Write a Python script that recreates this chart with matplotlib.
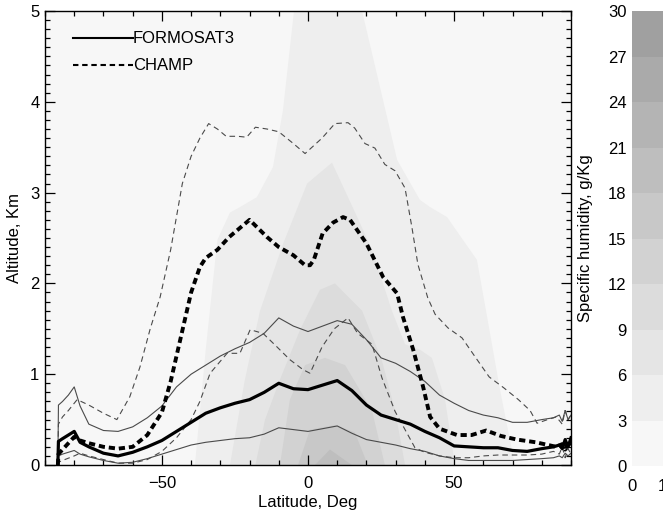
import matplotlib
matplotlib.use('Agg')
import matplotlib.pyplot as plt
import numpy as np
from matplotlib.ticker import MultipleLocator
from matplotlib.colors import ListedColormap, BoundaryNorm
from matplotlib.lines import Line2D

plt.rcParams['font.family'] = ['Liberation Sans', 'DejaVu Sans']

# ---------------- humidity colour levels (g/Kg) ----------------
hum_levels = [0, 3, 6, 9, 12, 15, 18, 21, 24, 27, 30]
hum_colors = ['#f7f7f7', '#eeeeee', '#e5e5e5', '#dcdcdc', '#d2d2d2',
              '#c8c8c8', '#bebebe', '#b4b4b4', '#aaaaaa', '#a0a0a0']

# ------------- filled contour regions (lat, alt) boundaries -------------
# level >= 3
c3_left_lat = [-38.7, -35, -31, -26.7, -23.3, -17.5, -12, -8.6, -4.8, -4.8]
c3_left_alt = [0.0, 1.27, 2.48, 2.78, 2.84, 2.95, 3.28, 3.9, 5.0, 5.1]
c3_right_lat = [70.8, 65.7, 61.3, 57.8, 53, 47.6, 41.8, 38.3, 30.5, 18.5, 18.5]
c3_right_alt = [0.0, 0.83, 1.63, 2.26, 2.48, 2.73, 2.84, 2.92, 3.36, 5.0, 5.1]
# level >= 6
c6_left_lat = [-26.7, -21.6, -16.4, -8.6, -0.3, 8.2]
c6_left_alt = [0.0, 0.94, 1.7, 2.43, 3.1, 3.33]
c6_right_lat = [50.3, 46.9, 42.4, 38.3, 33.2, 28.7, 22, 17, 8.2]
c6_right_alt = [0.0, 0.72, 1.18, 1.27, 1.33, 1.7, 2.36, 2.72, 3.33]
# level >= 9
c9_left_lat = [-18, -14.7, -9.6, -2.7, 4.1, 9.2]
c9_left_alt = [0.0, 0.5, 0.94, 1.49, 1.93, 2.0]
c9_right_lat = [33.2, 29.8, 25.3, 18.5, 9.2]
c9_right_alt = [0.0, 0.6, 1.15, 1.7, 2.0]
# level >= 12
c12_left_lat = [-9.6, -6.2, -1, 5.8]
c12_left_alt = [0.0, 0.72, 1.1, 1.18]
c12_right_lat = [26.3, 21.9, 12.7, 5.8]
c12_right_alt = [0.0, 0.6, 1.1, 1.18]
# level >= 15
c15_left_lat = [-3.4, 0.7, 9.2]
c15_left_alt = [0.0, 0.39, 0.44]
c15_right_lat = [20.5, 16, 9.2]
c15_right_alt = [0.0, 0.36, 0.44]
# level >= 18
c18_left_lat = [2.4, 7.5]
c18_left_alt = [0.0, 0.17]
c18_right_lat = [15, 7.5]
c18_right_alt = [0.0, 0.17]

regions = [
    (c3_left_lat, c3_left_alt, c3_right_lat, c3_right_alt, 1),
    (c6_left_lat, c6_left_alt, c6_right_lat, c6_right_alt, 2),
    (c9_left_lat, c9_left_alt, c9_right_lat, c9_right_alt, 3),
    (c12_left_lat, c12_left_alt, c12_right_lat, c12_right_alt, 4),
    (c15_left_lat, c15_left_alt, c15_right_lat, c15_right_alt, 5),
    (c18_left_lat, c18_left_alt, c18_right_lat, c18_right_alt, 6),
]

# ---------------- FORMOSAT3 profiles ----------------
f3_lat = [-85.6, -85.4, -84, -82, -80, -78, -75, -70, -65, -60, -55, -50, -45,
          -40, -35, -30, -25, -20, -15, -10, -5, 0, 5, 10, 15, 20, 25, 30, 35,
          40, 45, 50, 55, 60, 65, 70, 75, 80, 84, 86, 87, 88, 89, 90]
f3_mean = [0.0, 0.26, 0.29, 0.33, 0.37, 0.25, 0.2, 0.13, 0.1, 0.14, 0.2, 0.27, 0.37,
           0.47, 0.57, 0.63, 0.68, 0.72, 0.8, 0.9, 0.84, 0.83, 0.88, 0.93, 0.82, 0.66,
           0.55, 0.5, 0.45, 0.37, 0.3, 0.21, 0.2, 0.19, 0.19, 0.16, 0.15, 0.18, 0.2,
           0.22, 0.18, 0.28, 0.2, 0.3]
f3_upper = [0.0, 0.66, 0.7, 0.77, 0.86, 0.65, 0.45, 0.38, 0.37, 0.42, 0.52, 0.65, 0.86,
            1.0, 1.1, 1.2, 1.28, 1.35, 1.45, 1.62, 1.53, 1.47, 1.53, 1.59, 1.55, 1.38,
            1.18, 1.12, 1.03, 0.92, 0.77, 0.68, 0.6, 0.55, 0.52, 0.47, 0.47, 0.5, 0.52,
            0.55, 0.48, 0.6, 0.5, 0.55]
f3_lower = [0.0, 0.1, 0.12, 0.14, 0.16, 0.12, 0.09, 0.05, 0.02, 0.03, 0.07, 0.12, 0.17,
            0.22, 0.25, 0.27, 0.29, 0.3, 0.34, 0.41, 0.39, 0.37, 0.4, 0.43, 0.35, 0.28,
            0.25, 0.22, 0.18, 0.15, 0.1, 0.07, 0.05, 0.05, 0.05, 0.05, 0.06, 0.07, 0.08,
            0.1, 0.08, 0.13, 0.1, 0.13]

# ---------------- CHAMP profiles ----------------
ch_mean_lat = [-85.6, -85.4, -84, -82, -80, -78, -75, -70, -65, -60, -55, -50, -47,
               -45, -42, -40, -37, -35, -31, -27, -20, -14, -10, -5, -1, 0.7, 2, 5,
               8.6, 12, 14.4, 20, 25.7, 30.5, 32.5, 36, 39.4, 41.8, 45, 51, 56, 61,
               66, 71.5, 78, 85, 87, 88, 89, 90]
ch_mean = [0.0, 0.12, 0.17, 0.24, 0.31, 0.27, 0.24, 0.2, 0.18, 0.2, 0.33, 0.58, 0.92,
           1.2, 1.62, 1.9, 2.18, 2.28, 2.37, 2.51, 2.7, 2.51, 2.4, 2.31, 2.2, 2.2,
           2.26, 2.55, 2.67, 2.73, 2.7, 2.44, 2.07, 1.89, 1.63, 1.27, 0.86, 0.53,
           0.4, 0.33, 0.33, 0.38, 0.32, 0.28, 0.25, 0.2, 0.23, 0.17, 0.25, 0.22]
ch_up_lat = [-85.6, -85.4, -84, -82, -79, -75, -70, -65.4, -61, -57.5, -54, -50.6,
             -47, -43, -40, -37, -34, -31, -28, -24, -21, -18, -14, -10, -5, -1,
             4.8, 9.2, 13.7, 16, 19.5, 22.9, 26.3, 29.8, 33.2, 35.6, 37.6, 41, 43.5,
             47.9, 52.7, 57, 62, 67, 72, 76, 78.4, 82, 85, 87, 88, 89, 90]
ch_upper = [0.0, 0.45, 0.53, 0.6, 0.72, 0.66, 0.57, 0.5, 0.75, 1.08, 1.5, 1.85,
            2.37, 3.1, 3.4, 3.6, 3.76, 3.7, 3.62, 3.62, 3.61, 3.72, 3.7, 3.67, 3.54,
            3.43, 3.6, 3.76, 3.77, 3.71, 3.54, 3.49, 3.31, 3.24, 3.05, 2.61, 2.21,
            1.84, 1.66, 1.51, 1.4, 1.2, 0.97, 0.85, 0.72, 0.6, 0.46, 0.5, 0.53, 0.45,
            0.6, 0.5, 0.55]
ch_lo_lat = [-85.6, -85.4, -84, -80, -78, -75, -70, -65, -60, -55, -50, -45, -40,
             -37, -33.5, -27.7, -23.3, -19.8, -15.4, -10.6, -6.2, -1.7, 0.7, 4.8,
             9, 13.7, 17, 21.9, 25.3, 29.8, 36.6, 40, 45, 50, 55, 60, 65, 70, 75,
             80, 84, 86, 87, 88, 89, 90]
ch_lower = [0.0, 0.03, 0.05, 0.1, 0.13, 0.1, 0.06, 0.02, 0.02, 0.06, 0.15, 0.3,
            0.5, 0.7, 1.01, 1.23, 1.23, 1.49, 1.45, 1.3, 1.16, 1.05, 1.01, 1.3,
            1.5, 1.62, 1.45, 1.33, 0.96, 0.59, 0.19, 0.14, 0.1, 0.08, 0.08, 0.1,
            0.11, 0.11, 0.11, 0.12, 0.15, 0.12, 0.2, 0.08, 0.18, 0.12]

# colour bar x-axis tick labels
cb_xticks = [0, 1]

# ---------------- figure ----------------
W, H = 663, 511
fig = plt.figure(figsize=(W / 100, H / 100), dpi=100)
ax = fig.add_axes([45 / W, 46 / H, 526 / W, 454 / H])
ax.set_facecolor(hum_colors[0])

for llat, lalt, rlat, ralt, k in regions:
    xs = np.r_[llat, rlat[::-1]]
    ys = np.r_[lalt, ralt[::-1]]
    ax.fill(xs, ys, color=hum_colors[k], lw=0, zorder=1)

thin_col = '#4a4a4a'
ax.plot(f3_lat, f3_upper, color=thin_col, lw=0.8, zorder=3)
ax.plot(f3_lat, f3_lower, color=thin_col, lw=0.8, zorder=3)
ax.plot(ch_up_lat, ch_upper, color=thin_col, lw=0.8, dashes=(5, 3.5), zorder=3)
ax.plot(ch_lo_lat, ch_lower, color=thin_col, lw=0.8, dashes=(5, 3.5), zorder=3)
ax.plot(f3_lat, f3_mean, color='black', lw=2.3, zorder=4)
ax.plot(ch_mean_lat, ch_mean, color='black', lw=2.8, dashes=(1.6, 1.0), zorder=4)

ax.set_xlim(-90, 90)
ax.set_ylim(0, 5)
ax.set_xticks([-50, 0, 50])
ax.xaxis.set_minor_locator(MultipleLocator(10))
ax.set_yticks([0, 1, 2, 3, 4, 5])
ax.yaxis.set_minor_locator(MultipleLocator(0.1))
ax.tick_params(which='both', direction='in', top=True, right=True,
               labelsize=12, color='black', width=0.9)
ax.tick_params(which='major', length=7)
ax.tick_params(which='minor', length=3.8)
ax.tick_params(axis='x', pad=8)
ax.tick_params(axis='y', pad=4)
for s in ax.spines.values():
    s.set_linewidth(1.0)
ax.set_xlabel('Latitude, Deg', fontsize=12, labelpad=3)
ax.set_ylabel('Altitude, Km', fontsize=12, labelpad=6)

# legend drawn IDL-style
ax.add_line(Line2D([0.053, 0.167], [0.9405, 0.9405], transform=ax.transAxes,
                   color='black', lw=1.5, zorder=5))
ax.text(0.167, 0.9405, 'FORMOSAT3', transform=ax.transAxes, fontsize=12,
        va='center', ha='left', zorder=5)
ax.add_line(Line2D([0.053, 0.167], [0.881, 0.881], transform=ax.transAxes,
                   color='black', lw=1.5, dashes=(2.6, 1.8), zorder=5))
ax.text(0.167, 0.881, 'CHAMP', transform=ax.transAxes, fontsize=12,
        va='center', ha='left', zorder=5)

# ---------------- colour bar ----------------
cax = fig.add_axes([632 / W, 45 / H, 90 / W, 455 / H])
cmap = ListedColormap(hum_colors)
norm = BoundaryNorm(hum_levels, cmap.N)
cb_x = [0, 3]
cb_y = np.array(hum_levels)
cb_vals = (cb_y[:-1] + cb_y[1:]) / 2.0
cax.pcolormesh(cb_x, cb_y, np.array(cb_vals)[:, None], cmap=cmap, norm=norm)
cax.set_xlim(0, 3)
cax.set_ylim(0, 30)
cax.set_yticks(hum_levels)
cax.set_xticks(cb_xticks)
cax.tick_params(length=0, labelsize=12)
cax.tick_params(axis='x', pad=9)
cax.tick_params(axis='y', pad=4)
for s in cax.spines.values():
    s.set_visible(False)
cax.set_ylabel('Specific humidity, g/Kg', fontsize=12, labelpad=11)

fig.savefig('out.png', dpi=100)
